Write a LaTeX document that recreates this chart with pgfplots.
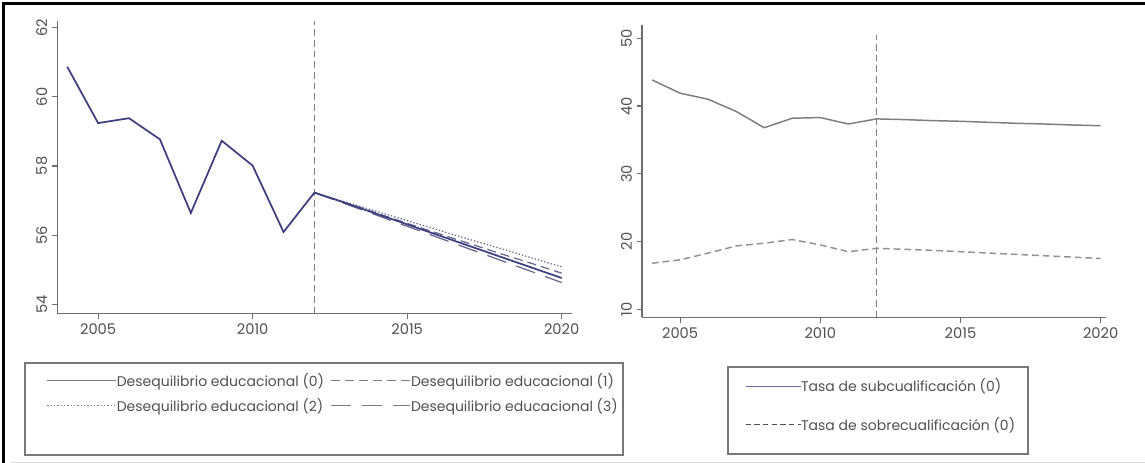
\documentclass[border=0pt]{standalone}
\usepackage{fontspec}
\setmainfont{Poppins}
\usepackage{pgfplots}
\pgfplotsset{compat=1.18}
\definecolor{navy}{RGB}{62,62,128}
\definecolor{fcast}{RGB}{100,100,140}
\definecolor{axgray}{RGB}{110,110,110}
\definecolor{txtgray}{RGB}{80,80,80}
\definecolor{lgray}{RGB}{120,120,120}
\definecolor{keygray}{RGB}{125,125,125}
\definecolor{keyblue}{RGB}{110,110,170}
\definecolor{rgray}{RGB}{125,125,125}
\newcommand{\ls}{\rule[-3pt]{0pt}{11pt}}
\pgfplotsset{
 base/.style={
  scale only axis, axis lines=left,
  axis line style={-, draw=axgray, line width=1.1pt},
  tick style={draw=axgray, line width=0.9pt}, tick align=outside, major tick length=4pt,
  enlargelimits=false, xtick={2005,2010,2015,2020},
  tick label style={font=\fontsize{11}{13}\selectfont, text=txtgray, /pgf/number format/assume math mode=true},
  x tick label style={/pgf/number format/1000 sep={}},
  y tick label style={rotate=90, anchor=south},
  legend cell align=left,
 },
 keyA/.style={legend image code/.code={\draw[##1] (0pt,0pt) -- (51.75pt,0pt);}},
 keyB/.style={legend image code/.code={\draw[##1] (0pt,0pt) -- (51pt,0pt); \path (0pt,0pt) -- (59.25pt,0pt);}},
 keyE/.style={legend image code/.code={\draw[##1] (0pt,0pt) -- (32pt,0pt); \path (0pt,0pt) -- (41.25pt,0pt);}},
 keyF/.style={legend image code/.code={\draw[##1] (0pt,0pt) -- (37.5pt,0pt); \path (0pt,0pt) -- (41.25pt,0pt);}},
}
\begin{document}
\begin{tikzpicture}
\path[use as bounding box] (0,0) rectangle (858.75pt,347.25pt);
\draw[black, line width=2.3pt] (2.6pt,0pt) -- (2.6pt,344.6pt) -- (858.75pt,344.6pt);
\draw[black!15, line width=0.6pt] (8pt,0.8pt) -- (858.75pt,0.8pt);
% legend frames
\draw[lgray, line width=0.9pt] (18.75pt,75pt) rectangle (467.25pt,6pt);
\draw[lgray, line width=0.9pt] (546pt,72pt) rectangle (771pt,6.75pt);

\begin{axis}[base, at={(42.98pt,112.28pt)}, anchor=south west,
  width=385.7pt, height=219.45pt,
  xmin=2003.68, xmax=2020.32, ymin=53.74, ymax=62.2,
  ytick={54,56,58,60,62},
  legend columns=2,
  legend style={at={(-0.0628,-0.1699)}, anchor=north west, draw=none, fill=none,
    inner xsep=16pt, inner ysep=7.25pt, row sep=7.75pt, column sep=0pt,
    font=\fontsize{10.5}{12}\selectfont, text=txtgray, nodes={inner sep=0pt}},
]
\addplot[rgray, line width=0.9pt, dash pattern=on 5pt off 3pt, forget plot] coordinates {(2012,53.74) (2012,62.2)};
\addplot[fcast, line width=0.9pt, dash pattern=on 6.75pt off 3.75pt, forget plot]
 coordinates {(2012,57.23) (2013,56.94) (2014,56.64) (2015,56.34) (2016,56.05) (2017,55.76) (2018,55.47) (2019,55.19) (2020,54.90)};
\addplot[fcast, line width=0.9pt, dash pattern=on 1pt off 1.5pt, forget plot]
 coordinates {(2012,57.23) (2013,56.96) (2014,56.69) (2015,56.42) (2016,56.15) (2017,55.88) (2018,55.62) (2019,55.35) (2020,55.08)};
\addplot[fcast, line width=0.9pt, dash pattern=on 15pt off 8pt, forget plot]
 coordinates {(2012,57.23) (2013,56.905) (2014,56.58) (2015,56.255) (2016,55.93) (2017,55.605) (2018,55.28) (2019,54.955) (2020,54.63)};
\addplot[navy, line width=1.3pt, forget plot]
 coordinates {(2004,60.87) (2005,59.24) (2006,59.38) (2007,58.77) (2008,56.64) (2009,58.73) (2010,58.01) (2011,56.09) (2012,57.23)
 (2013,56.93) (2014,56.62) (2015,56.31) (2016,56.00) (2017,55.69) (2018,55.38) (2019,55.07) (2020,54.76)};
\addlegendimage{keygray, line width=0.9pt, keyA}
\addlegendentry{\makebox[160.5pt][l]{\ls Desequilibrio educacional (0)}}
\addlegendimage{keygray, line width=0.9pt, dash pattern=on 6.75pt off 3.75pt, keyB}
\addlegendentry{\makebox[144pt][l]{\ls Desequilibrio educacional (1)}}
\addlegendimage{keygray, line width=0.9pt, dash pattern=on 1pt off 1.5pt, keyA}
\addlegendentry{\makebox[160.5pt][l]{\ls Desequilibrio educacional (2)}}
\addlegendimage{keygray, line width=0.9pt, dash pattern=on 15pt off 8pt, keyB}
\addlegendentry{\makebox[144pt][l]{\ls Desequilibrio educacional (3)}}
\end{axis}

\begin{axis}[base, at={(481.5pt,109.28pt)}, anchor=south west,
  width=348pt, height=219.2pt,
  xmin=2003.64, xmax=2020.19, ymin=8.82, ymax=51.96,
  ytick={10,20,30,40,50},
  legend style={at={(0.1853,-0.170)}, anchor=north west, draw=none, fill=none,
    inner xsep=12.5pt, inner ysep=8.75pt, row sep=17.5pt,
    font=\fontsize{10.5}{12}\selectfont, text=txtgray, nodes={inner sep=0pt}},
]
\addplot[rgray, line width=0.9pt, dash pattern=on 5pt off 3pt, forget plot] coordinates {(2012,8.82) (2012,50.5)};
\addplot[rgray, line width=1.1pt, forget plot]
 coordinates {(2004,43.85) (2005,41.9) (2006,41.0) (2007,39.2) (2008,36.8) (2009,38.2) (2010,38.3) (2011,37.35) (2012,38.1)
 (2013,38.0) (2014,37.85) (2015,37.75) (2016,37.6) (2017,37.45) (2018,37.35) (2019,37.2) (2020,37.1)};
\addplot[rgray!85, line width=1.1pt, dash pattern=on 5pt off 3pt, forget plot]
 coordinates {(2004,16.8) (2005,17.3) (2006,18.3) (2007,19.35) (2008,19.75) (2009,20.3) (2010,19.5) (2011,18.5) (2012,19.0)
 (2013,18.85) (2014,18.7) (2015,18.5) (2016,18.3) (2017,18.1) (2018,17.9) (2019,17.7) (2020,17.5)};
\addlegendimage{keyblue, line width=0.9pt, keyE}
\addlegendentry{\makebox[158.25pt][l]{\ls Tasa de subcualificación (0)}}
\addlegendimage{txtgray, line width=0.9pt, dash pattern=on 4pt off 2.5pt, keyF}
\addlegendentry{\makebox[158.25pt][l]{\ls Tasa de sobrecualificación (0)}}
\end{axis}
\end{tikzpicture}
\end{document}
